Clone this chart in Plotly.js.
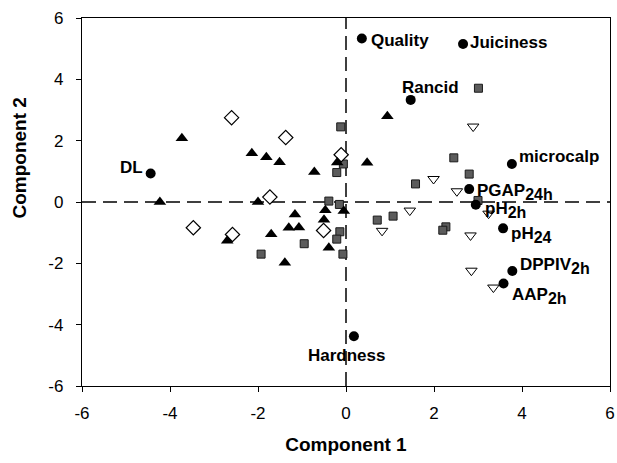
<!DOCTYPE html>
<html>
<head>
<meta charset="utf-8">
<script src="https://cdn.plot.ly/plotly-3.0.1.min.js"></script>
<style>html,body{margin:0;padding:0;background:#fff;}#chart{width:617px;height:463px;}</style>
</head>
<body>
<div id="chart"></div>
<script>
// Variable loadings (black circles): label stem and subscript
var varNames = ["Quality", "Juiciness", "Rancid", "microcalp", "PGAP", "pH", "pH", "DPPIV", "AAP", "DL", "Hardness"];
var varSubs = ["", "", "", "", "24h", "2h", "24", "2h", "2h", "", ""];
var varX = [0.36, 2.66, 1.47, 3.77, 2.80, 2.95, 3.57, 3.78, 3.58, -4.44, 0.18];
var varY = [5.33, 5.15, 3.33, 1.24, 0.42, -0.09, -0.86, -2.25, -2.66, 0.93, -4.38];

// Filled triangles
var triX = [-3.73, -2.14, -1.81, -1.51, -0.72, -0.20, 0.48, 0.94, -4.23, -2.00, -0.47, -0.05, -1.16, -1.30, -1.07, -0.50, -2.70, -1.70, -0.39, -1.39];
var triY = [2.08, 1.59, 1.46, 1.30, 0.98, 1.29, 1.28, 2.80, 0.00, 0.00, -0.27, -0.29, -0.41, -0.84, -0.83, -0.58, -1.26, -1.05, -1.49, -1.98];

// Open diamonds
var diaX = [-2.60, -1.37, -0.11, -1.73, -3.47, -2.58, -0.51];
var diaY = [2.75, 2.10, 1.54, 0.16, -0.84, -1.06, -0.93];

// Gray squares
var sqX = [-0.12, -0.06, -0.21, -0.39, -0.15, -0.14, -0.21, -0.95, -1.93, -0.07, 3.01, 2.45, 2.80, 1.58, 3.00, 0.71, 1.07, 2.27, 2.20];
var sqY = [2.45, 1.24, 0.96, 0.03, -0.08, -0.97, -1.21, -1.36, -1.70, -1.70, 3.71, 1.44, 0.91, 0.59, 0.05, -0.59, -0.46, -0.81, -0.92];

// Open down-triangles
var tdX = [2.89, 1.99, 2.52, 3.24, 1.45, 0.82, 2.83, 2.85, 3.35];
var tdY = [2.46, 0.75, 0.35, -0.38, -0.28, -0.94, -1.09, -2.24, -2.79];

// Axis ticks
var tickVals = [-6, -4, -2, 0, 2, 4, 6];
var tickText = ["-6", "-4", "-2", "0", "2", "4", "6"];

// Label placement styles (not data)
var labStyle = [
  {xa: "left", xs: 7, ys: -2},
  {xa: "left", xs: 5, ys: 2},
  {xa: "center", xs: 20, ys: 12},
  {xa: "left", xs: 5, ys: 7},
  {xa: "left", xs: 6, ys: -3},
  {xa: "left", xs: 7, ys: -5},
  {xa: "left", xs: 6, ys: -7},
  {xa: "left", xs: 6, ys: 5},
  {xa: "left", xs: 6, ys: -12},
  {xa: "right", xs: -6, ys: 6},
  {xa: "center", xs: -7, ys: -19}
];

var FONT = "Arial, 'Liberation Sans', sans-serif";

var traces = [
  {x: sqX, y: sqY, mode: "markers", type: "scatter",
   marker: {symbol: "square", size: 8, color: "#5c5c5c", line: {color: "#1a1a1a", width: 1}}},
  {x: tdX, y: tdY, mode: "markers", type: "scatter",
   marker: {symbol: "triangle-down", size: 10, color: "#ffffff", line: {color: "#000", width: 1}}},
  {x: diaX, y: diaY, mode: "markers", type: "scatter",
   marker: {symbol: "diamond", size: 11, color: "#ffffff", line: {color: "#000", width: 1.2}}},
  {x: triX, y: triY, mode: "markers", type: "scatter",
   marker: {symbol: "triangle-up", size: 11, color: "#000"}},
  {x: varX, y: varY, mode: "markers", type: "scatter",
   marker: {symbol: "circle", size: 10, color: "#000"}}
];

var annotations = varNames.map(function (t, i) {
  var s = labStyle[i];
  var txt = "<b>" + t + "</b>";
  if (varSubs[i]) {
    txt += "<sub><b><span style=\"font-size:16px\">" + varSubs[i] + "</span></b></sub>";
  }
  return {x: varX[i], y: varY[i], xref: "x", yref: "y", text: txt,
    showarrow: false, xanchor: s.xa, yanchor: "middle", xshift: s.xs, yshift: s.ys,
    font: {family: FONT, size: 17, color: "#000"}};
});
annotations.push({x: -0.118, y: 0.62, xref: "paper", yref: "paper", text: "<b>Component 2</b>",
  textangle: -90, showarrow: false, xanchor: "center", yanchor: "middle",
  font: {family: FONT, size: 19, color: "#000"}});

var axisCommon = {
  range: [-6, 6], tickvals: tickVals, ticktext: tickText, showgrid: false, zeroline: false,
  showline: true, linecolor: "#000", linewidth: 1.2, mirror: true,
  ticks: "outside", ticklen: 5, tickcolor: "#000", tickwidth: 1,
  tickfont: {family: FONT, size: 17, color: "#000"}, fixedrange: true
};

var layout = {
  width: 617, height: 463,
  margin: {l: 82, r: 7, t: 18, b: 77},
  paper_bgcolor: "#fff", plot_bgcolor: "#fff",
  showlegend: false,
  xaxis: Object.assign({}, axisCommon, {
    title: {text: "<b>Component 1</b>", font: {family: FONT, size: 19, color: "#000"}, standoff: 16},
    ticklabelstandoff: 6
  }),
  yaxis: Object.assign({}, axisCommon, {ticklabelstandoff: 9}),
  shapes: [
    {type: "line", xref: "x", yref: "paper", x0: 0, x1: 0, y0: 0, y1: 1, layer: "below",
     line: {color: "#000", width: 1.5, dash: "14px,7px"}},
    {type: "line", xref: "paper", yref: "y", x0: 0, x1: 1, y0: 0, y1: 0, layer: "below",
     line: {color: "#000", width: 1.5, dash: "14px,7px"}}
  ],
  annotations: annotations
};

Plotly.newPlot("chart", traces, layout, {displayModeBar: false, staticPlot: true});
</script>
</body>
</html>
